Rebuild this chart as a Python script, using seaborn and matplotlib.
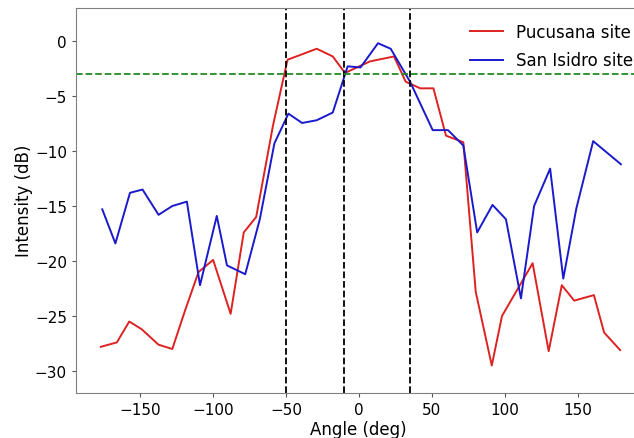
import numpy as np
import pandas as pd
import matplotlib
matplotlib.use('Agg')
import matplotlib.pyplot as plt
import seaborn as sns

# Pucusana site
puc_angle = [-177, -166, -157.5, -149, -137.5, -128, -119, -110, -100, -88, -79, -70.5,
             -59, -49, -29, -18, -9.6, 7.5, 24, 32, 42, 51, 59.6, 71.5, 80, 91, 98,
             119, 130, 139, 147.5, 161, 168, 179]
puc_db = [-27.8, -27.4, -25.5, -26.2, -27.6, -28.0, -24.4, -21.0, -19.9, -24.8, -17.4, -16.0,
          -7.7, -1.7, -0.7, -1.4, -2.9, -1.85, -1.4, -3.7, -4.3, -4.3, -8.6, -9.2, -22.8, -29.5, -25.0,
          -20.2, -28.2, -22.2, -23.6, -23.1, -26.5, -28.1]

# San Isidro site
isi_angle = [-176, -167, -157, -148.4, -137.4, -128, -118, -109, -97.5, -90.5, -78, -68,
             -58, -48.4, -39, -29, -18, -7.8, 1, 13, 21.7, 35, 50.5, 61, 71.5, 81, 91.5,
             100.7, 111, 120, 131, 140, 149, 160.5, 179.5]
isi_db = [-15.3, -18.4, -13.8, -13.5, -15.8, -15.0, -14.6, -22.2, -15.9, -20.4, -21.2, -16.2,
          -9.3, -6.6, -7.45, -7.2, -6.5, -2.3, -2.4, -0.2, -0.7, -3.7, -8.1, -8.1, -9.5, -17.4, -14.9,
          -16.2, -23.4, -15.0, -11.6, -21.6, -15.2, -9.1, -11.2]

vlines = [-50, -10, 35]
hline = -3

df_puc = pd.DataFrame({'angle': puc_angle, 'db': puc_db})
df_isi = pd.DataFrame({'angle': isi_angle, 'db': isi_db})

plt.rcParams['font.family'] = ['DejaVu Sans']
fig = plt.figure(figsize=(6.34, 4.39), dpi=100)
ax = fig.add_axes([76 / 634, 1 - 394 / 439, (640 - 76) / 634, (394 - 8.5) / 439])

sns.lineplot(data=df_puc, x='angle', y='db', color='#dd2222', lw=1.4, label='Pucusana site', ax=ax, sort=False)
sns.lineplot(data=df_isi, x='angle', y='db', color='#1a1acc', lw=1.4, label='San Isidro site', ax=ax, sort=False)

for v in vlines:
    ax.axvline(v, color='black', ls='--', lw=1.3)
ax.axhline(hline, color='#228B22', ls='--', lw=1.3)

ax.set_xlim(-194, 192.6)
ax.set_ylim(-32, 3.05)
ax.set_xticks([-150, -100, -50, 0, 50, 100, 150])
ax.set_yticks([0, -5, -10, -15, -20, -25, -30])
ax.tick_params(labelsize=11, color='#555555', length=3)
ax.set_xlabel('Angle (deg)', fontsize=12, labelpad=2)
ax.set_ylabel('Intensity (dB)', fontsize=12, labelpad=1)
for s in ax.spines.values():
    s.set_color('#808080')
ax.legend(frameon=False, fontsize=12, loc='upper right', bbox_to_anchor=(1.015, 1.0),
          labelspacing=0.65)

fig.savefig('out.png', dpi=100)
